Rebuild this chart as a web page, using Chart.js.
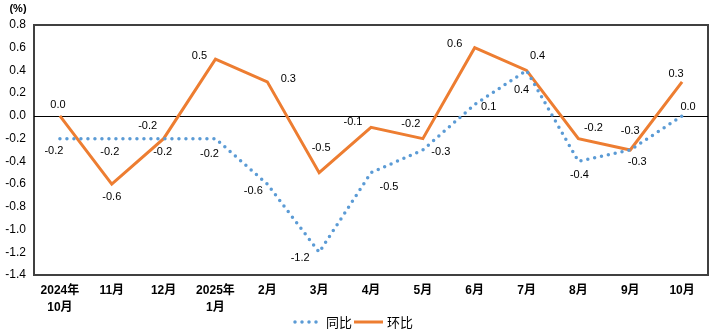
<!DOCTYPE html>
<html>
<head>
<meta charset="utf-8">
<script src="https://cdn.jsdelivr.net/npm/chart.js@4.4.1/dist/chart.umd.min.js"></script>
<style>
  html, body { margin: 0; padding: 0; background: #fff; }
  #wrap { width: 720px; height: 334px; position: relative; }
</style>
</head>
<body>
<div id="wrap"><canvas id="priceChart"></canvas></div>
<script>
// month labels (two-line ones are year starts)
const categories = [['2024年', '10月'], '11月', '12月', ['2025年', '1月'], '2月', '3月', '4月', '5月', '6月', '7月', '8月', '9月', '10月'];
const yoyValues = [-0.2, -0.2, -0.2, -0.2, -0.6, -1.2, -0.5, -0.3, 0.1, 0.4, -0.4, -0.3, 0.0];
const momValues = [0.0, -0.6, -0.2, 0.5, 0.3, -0.5, -0.1, -0.2, 0.6, 0.4, -0.2, -0.3, 0.3];
const seriesNames = ['同比', '环比'];
const yMin = -1.4, yMax = 0.8, yStep = 0.2;
const unitLabel = '(%)';

// where each value label sits relative to its point
const yoyLabelOffsets = [[-6, 12], [-2, 13], [-1, 13], [-6, 15], [-14, 7], [-19, 6], [18, 14], [18, 2], [14, 2], [-5, 20], [1, 14], [7, 12], [6, -9]];
const momLabelOffsets = [[-2, -11], [0, 13], [-16, -13], [-16, -3], [21, -3], [2, -25], [-18, -5], [-12, -15], [-20, -4], [11, -14], [15, -11], [0, -19], [-6, -8]];

const blue = '#5B9BD5';
const orange = '#ED7D31';
const numFont = '"Liberation Sans", "Noto Sans CJK SC", sans-serif';

const extras = {
    id: 'extras',
    beforeDatasetsDraw(chart) {
        const ctx = chart.ctx;
        const a = chart.chartArea;
        ctx.save();
        ctx.strokeStyle = '#404040';
        ctx.lineWidth = 2;
        ctx.strokeRect(a.left, a.top, a.right - a.left, a.bottom - a.top);
        const y0 = Math.round(chart.scales.y.getPixelForValue(0)) + 0.5;
        ctx.strokeStyle = '#000';
        ctx.lineWidth = 1;
        ctx.beginPath();
        ctx.moveTo(a.left, y0);
        ctx.lineTo(a.right, y0);
        ctx.stroke();
        ctx.restore();
    },
    afterDraw(chart) {
        const ctx = chart.ctx;
        ctx.save();
        ctx.fillStyle = '#000';
        ctx.textAlign = 'center';
        ctx.textBaseline = 'middle';
        ctx.font = '11px ' + numFont;
        const offs = [yoyLabelOffsets, momLabelOffsets];
        chart.data.datasets.forEach((ds, i) => {
            chart.getDatasetMeta(i).data.forEach((pt, j) => {
                const o = offs[i][j];
                ctx.fillText(ds.data[j].toFixed(1), pt.x + o[0], pt.y + o[1]);
            });
        });

        // unit label
        ctx.font = 'bold 11px ' + numFont;
        ctx.fillText(unitLabel, 18, 9);

        // legend
        const ly = 322;
        ctx.lineCap = 'round';
        ctx.strokeStyle = blue;
        ctx.lineWidth = 3.5;
        ctx.setLineDash([0, 7]);
        ctx.beginPath();
        ctx.moveTo(295, ly);
        ctx.lineTo(320, ly);
        ctx.stroke();
        ctx.setLineDash([]);
        ctx.lineCap = 'butt';
        ctx.strokeStyle = orange;
        ctx.lineWidth = 3;
        ctx.beginPath();
        ctx.moveTo(354, ly);
        ctx.lineTo(383, ly);
        ctx.stroke();
        ctx.font = '13px "Noto Sans CJK SC", sans-serif';
        ctx.textAlign = 'left';
        ctx.fillText(seriesNames[0], 326, ly);
        ctx.fillText(seriesNames[1], 387, ly);
        ctx.restore();
    }
};

new Chart(document.getElementById('priceChart'), {
    type: 'line',
    data: {
        labels: categories,
        datasets: [
            {
                label: seriesNames[0],
                data: yoyValues,
                borderColor: blue,
                borderWidth: 3.5,
                borderDash: [0, 7],
                borderCapStyle: 'round',
                pointRadius: 0,
                tension: 0
            },
            {
                label: seriesNames[1],
                data: momValues,
                borderColor: orange,
                borderWidth: 3,
                pointRadius: 0,
                tension: 0
            }
        ]
    },
    options: {
        responsive: true,
        maintainAspectRatio: false,
        animation: false,
        layout: { padding: { left: 0, top: 25, right: 12, bottom: 0 } },
        plugins: {
            legend: { display: false },
            tooltip: { enabled: false }
        },
        scales: {
            x: {
                offset: true,
                grid: { display: false, drawTicks: false },
                border: { display: false },
                ticks: {
                    color: '#000',
                    font: { family: numFont, size: 12, weight: 'bold', lineHeight: 1.35 },
                    padding: 8,
                    maxRotation: 0,
                    autoSkip: false
                },
                afterFit: s => { s.height = 59; }
            },
            y: {
                min: yMin,
                max: yMax,
                grid: { display: false, drawTicks: false },
                border: { display: false },
                ticks: {
                    stepSize: yStep,
                    color: '#000',
                    font: { family: numFont, size: 12 },
                    padding: 8,
                    callback: v => v.toFixed(1)
                },
                afterFit: s => { s.width = 34; }
            }
        }
    },
    plugins: [extras]
});
</script>
</body>
</html>
